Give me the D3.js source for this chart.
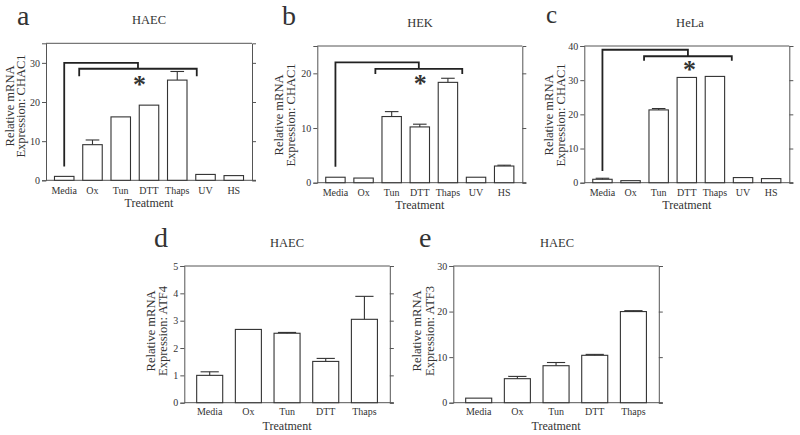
<!DOCTYPE html>
<html><head><meta charset="utf-8">
<script src="https://cdn.jsdelivr.net/npm/d3@7"></script>
<style>
body{margin:0;background:#fff;}
svg text{font-family:"Liberation Serif","Times New Roman",serif;fill:#333;}
</style></head>
<body><svg id="chart" width="800" height="435"></svg>
<script>
// ---------- data ----------
const catsCHAC1 = ["Media","Ox","Tun","DTT","Thaps","UV","HS"];
const catsATF = ["Media","Ox","Tun","DTT","Thaps"];

const haecCHAC1    = [1.0, 9.1, 16.2, 19.2, 25.6, 1.5, 1.2];
const haecCHAC1Err = [0.2, 1.2, 0.1, 0.1, 2.2, 0.05, 0.05];
const hekCHAC1     = [1.0, 0.85, 12.1, 10.2, 18.35, 1.0, 3.05];
const hekCHAC1Err  = [0.05, 0.05, 0.9, 0.5, 0.75, 0.05, 0.15];
const helaCHAC1    = [1.0, 0.6, 21.3, 30.8, 31.1, 1.5, 1.2];
const helaCHAC1Err = [0.3, 0.05, 0.4, 0.1, 0.1, 0.05, 0.1];
const haecATF4     = [1.0, 2.68, 2.54, 1.51, 3.05];
const haecATF4Err  = [0.13, 0.02, 0.03, 0.11, 0.84];
const haecATF3     = [1.0, 5.27, 8.12, 10.4, 20.0];
const haecATF3Err  = [0.05, 0.5, 0.7, 0.2, 0.2];

const ticksA = [0,10,20,30];
const ticksB = [0,10,20];
const ticksC = [0,10,20,30,40];
const ticksD = [0,1,2,3,4,5];
const ticksE = [0,10,20,30];

// significance brackets (value units; span in category-index units)
const bracketA = {base:3.5, top:30, span:[0.53,4.69], spanY:28.5, spanEnd:26.6, star:25.0};
const bracketB = {base:2.9, top:22.0, span:[1.42,4.51], spanY:20.8, spanEnd:19.9, star:18.6};
const bracketC = {base:3.4, top:38.9, span:[1.48,4.60], spanY:37.0, spanEnd:35.7, star:34.0};

// ---------- layout ----------
const panels = [
  {letter:"a", lx:17, ly:25, ls:28, title:"HAEC", tx:149, ty:24, gene:"CHAC1", cats:catsCHAC1, vals:haecCHAC1, errs:haecCHAC1Err,
   yMax:35, ticks:ticksA, left:46, top:43.3, w:206, h:137, yl1:13.5, yl2:25, ylc:106, catY:194, trY:207, br:bracketA},
  {letter:"b", lx:282, ly:25, ls:28, title:"HEK", tx:420, ty:26.5, gene:"CHAC1", cats:catsCHAC1, vals:hekCHAC1, errs:hekCHAC1Err,
   yMax:25, ticks:ticksB, left:317.3, top:46, w:205, h:136.7, yl1:282.5, yl2:295, ylc:115, catY:196, trY:209, br:bracketB},
  {letter:"c", lx:546, ly:22.5, ls:25, title:"HeLa", tx:690, ty:26.5, gene:"CHAC1", cats:catsCHAC1, vals:helaCHAC1, errs:helaCHAC1Err,
   yMax:40, ticks:ticksC, left:584.3, top:46, w:205, h:136.7, yl1:552.5, yl2:565, ylc:115, catY:196, trY:209, br:bracketC},
  {letter:"d", lx:154, ly:247, ls:28, title:"HAEC", tx:287, ty:246.5, gene:"ATF4", cats:catsATF, vals:haecATF4, errs:haecATF4Err,
   yMax:5, ticks:ticksD, left:184.3, top:266, w:205.5, h:136.7, yl1:155, yl2:167, ylc:331, catY:415, trY:430, br:null},
  {letter:"e", lx:419, ly:247, ls:28, title:"HAEC", tx:557, ty:246.5, gene:"ATF3", cats:catsATF, vals:haecATF3, errs:haecATF3Err,
   yMax:30, ticks:ticksE, left:453.3, top:266, w:205.5, h:136.7, yl1:421, yl2:433.5, ylc:331, catY:415, trY:430, br:null}
];

const svg = d3.select("#chart");
const frameCol = "#555", barCol = "#333";

panels.forEach(p => {
  const g = svg.append("g");
  const bottom = p.top + p.h, right = p.left + p.w;
  const n = p.cats.length;
  const x = d3.scaleBand().domain(p.cats).range([p.left, right])
      .paddingInner(n === 7 ? 0.31 : 0.327).paddingOuter(n === 7 ? 0.3 : 0.32);
  const y = d3.scaleLinear().domain([0, p.yMax]).range([bottom, p.top]);
  const bw = x.bandwidth();
  const cx = i => x(p.cats[0]) + bw/2 + i * x.step();

  // frame top line
  g.append("line").attr("x1", p.left).attr("x2", right).attr("y1", p.top).attr("y2", p.top)
    .attr("stroke", frameCol).attr("stroke-width", 1);

  // left axis
  const la = g.append("g").attr("transform", `translate(${p.left},0)`)
    .call(d3.axisLeft(y).tickValues(p.ticks).tickSize(4).tickPadding(2).tickFormat(d3.format("d")));
  la.select(".domain").attr("stroke", frameCol);
  la.selectAll(".tick line").attr("stroke", frameCol);
  la.selectAll("text").style("font-size", "10px").attr("fill", "#333");

  // right axis
  const ra = g.append("g").attr("transform", `translate(${right},0)`)
    .call(d3.axisRight(y).tickValues(p.ticks).tickSize(4).tickFormat(""));
  ra.select(".domain").attr("stroke", frameCol);
  ra.selectAll(".tick line").attr("stroke", frameCol);

  // bottom axis
  const ba = g.append("g").attr("transform", `translate(0,${bottom})`)
    .call(d3.axisBottom(x).tickSize(0).tickPadding(9));
  ba.select(".domain").attr("stroke", frameCol).attr("d", `M${p.left},0H${right + 4}`);
  ba.selectAll("text").style("font-size", "10px").attr("fill", "#333")
    .attr("y", null).attr("dy", null).attr("transform", null)
    .each(function(){ d3.select(this).attr("y", p.catY - bottom); });

  // bars
  g.selectAll("rect.bar").data(p.vals).join("rect").attr("class", "bar")
    .attr("x", (d,i) => x(p.cats[i])).attr("width", bw)
    .attr("y", d => y(d)).attr("height", d => y(0) - y(d))
    .attr("fill", "#fff").attr("stroke", barCol).attr("stroke-width", 1.1);

  // error bars (upper)
  const cap = bw * 0.7;
  p.vals.forEach((v, i) => {
    const xc = x(p.cats[i]) + bw/2, e = p.errs[i];
    if (y(v) - y(v + e) < 0.8) return;
    g.append("line").attr("x1", xc).attr("x2", xc).attr("y1", y(v)).attr("y2", y(v + e))
      .attr("stroke", barCol).attr("stroke-width", 1.1);
    g.append("line").attr("x1", xc - cap/2).attr("x2", xc + cap/2).attr("y1", y(v + e)).attr("y2", y(v + e))
      .attr("stroke", barCol).attr("stroke-width", 1.1);
  });

  // texts
  g.append("text").attr("x", p.lx).attr("y", p.ly).style("font-size", p.ls + "px").attr("fill", "#111").text(p.letter);
  g.append("text").attr("x", p.tx).attr("y", p.ty).attr("text-anchor", "middle").style("font-size", "12.5px").text(p.title);
  g.append("text").attr("x", p.left + p.w/2).attr("y", p.trY).attr("text-anchor", "middle").style("font-size", "12px").text("Treatment");
  g.append("text").attr("transform", `translate(${p.yl1},${p.ylc}) rotate(-90)`).attr("text-anchor", "middle")
    .style("font-size", "12.5px").text("Relative mRNA");
  g.append("text").attr("transform", `translate(${p.yl2},${p.ylc}) rotate(-90)`).attr("text-anchor", "middle")
    .style("font-size", "12.5px").text("Expression: " + p.gene);

  // brackets
  if (p.br) {
    const b = p.br;
    const x0 = cx(0), xs = cx(b.span[0]), xe = cx(b.span[1]), xm = (xs + xe) / 2;
    g.append("path")
      .attr("d", `M${x0},${y(b.base)}V${y(b.top)}H${xm}V${y(b.spanY)}`)
      .attr("fill", "none").attr("stroke", "#222").attr("stroke-width", 1.8);
    g.append("path")
      .attr("d", `M${xs},${y(b.spanEnd)}V${y(b.spanY)}H${xe}V${y(b.spanEnd)}`)
      .attr("fill", "none").attr("stroke", "#222").attr("stroke-width", 1.8);
    g.append("text").attr("x", xm + 1.5).attr("y", y(b.star) + 11).attr("text-anchor", "middle")
      .style("font-size", "26px").style("font-weight", "bold").attr("fill", "#111").text("*");
  }
});
</script></body></html>
